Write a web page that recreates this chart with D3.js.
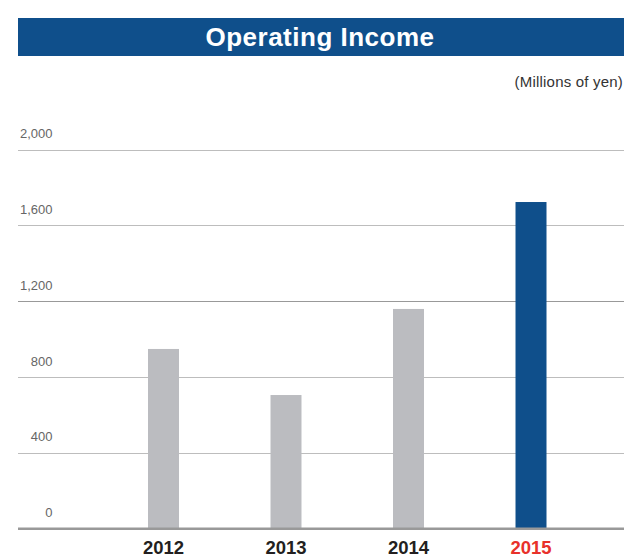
<!DOCTYPE html>
<html>
<head>
<meta charset="utf-8">
<script src="https://cdn.jsdelivr.net/npm/d3@7"></script>
<style>
  html, body { margin: 0; padding: 0; background: #fff; }
  svg { display: block; }
  text { font-family: "Liberation Sans", Arial, Helvetica, sans-serif; }
</style>
</head>
<body>
<svg id="chart" width="624" height="556"></svg>
<script>
// Operating income by fiscal year (millions of yen)
const years = ["2012", "2013", "2014", "2015"];
const income = [948, 705, 1159, 1723];
const yTicks = [0, 400, 800, 1200, 1600, 2000];
const title = "Operating Income";
const unitLabel = "(Millions of yen)";

const svg = d3.select("#chart");
const W = 624;
const plotLeft = 18, plotRight = 624;

// Title banner
svg.append("rect")
  .attr("x", 18).attr("y", 18)
  .attr("width", W - 18).attr("height", 38)
  .attr("fill", "#0f4f8b");
svg.append("text")
  .attr("x", 320).attr("y", 45.5)
  .attr("text-anchor", "middle")
  .attr("fill", "#fff")
  .attr("font-weight", "bold")
  .attr("font-size", 26)
  .attr("letter-spacing", 0.5)
  .text(title);

svg.append("text")
  .attr("x", 623).attr("y", 87)
  .attr("text-anchor", "end")
  .attr("fill", "#333")
  .attr("font-size", 15)
  .attr("letter-spacing", 0.2)
  .text(unitLabel);

// Scales
const y = d3.scaleLinear().domain([0, 2000]).range([528.7, 149.5]);
const x = d3.scaleBand().domain(years).range([148, 546.5]).paddingInner(0.747).paddingOuter(0);

// Gridlines and tick labels
const grid = svg.append("g");
grid.selectAll("line.grid")
  .data(yTicks.filter(d => d > 0))
  .join("line")
  .attr("class", "grid")
  .attr("x1", plotLeft).attr("x2", plotRight)
  .attr("y1", d => Math.round(y(d)) + 0.5)
  .attr("y2", d => Math.round(y(d)) + 0.5)
  .attr("stroke", d => d === 1200 ? "#999" : "#bdbdbd")
  .attr("stroke-width", 1.2);

const fmt = d3.format(",");
grid.selectAll("text.tick")
  .data(yTicks)
  .join("text")
  .attr("class", "tick")
  .attr("x", 52.5)
  .attr("y", d => y(d) - 11.5)
  .attr("text-anchor", "end")
  .attr("fill", "#666")
  .attr("font-size", 13)
  .text(d => fmt(d));

// Bars
svg.append("g").selectAll("rect")
  .data(years.map((yr, i) => ({ yr, v: income[i] })))
  .join("rect")
  .attr("x", d => x(d.yr))
  .attr("width", x.bandwidth())
  .attr("y", d => y(d.v))
  .attr("height", d => y(0) - y(d.v))
  .attr("fill", d => d.yr === "2015" ? "#0f4f8b" : "#bbbcc0");

// Baseline
svg.append("line")
  .attr("x1", plotLeft).attr("x2", plotRight)
  .attr("y1", y(0)).attr("y2", y(0))
  .attr("stroke", "#999")
  .attr("stroke-width", 2.6);

// Year labels
svg.append("g").selectAll("text")
  .data(years)
  .join("text")
  .attr("x", d => x(d) + x.bandwidth() / 2)
  .attr("y", 553.5)
  .attr("text-anchor", "middle")
  .attr("font-weight", "bold")
  .attr("font-size", 18.5)
  .attr("fill", d => d === "2015" ? "#e8312a" : "#231f20")
  .text(d => d);
</script>
</body>
</html>
